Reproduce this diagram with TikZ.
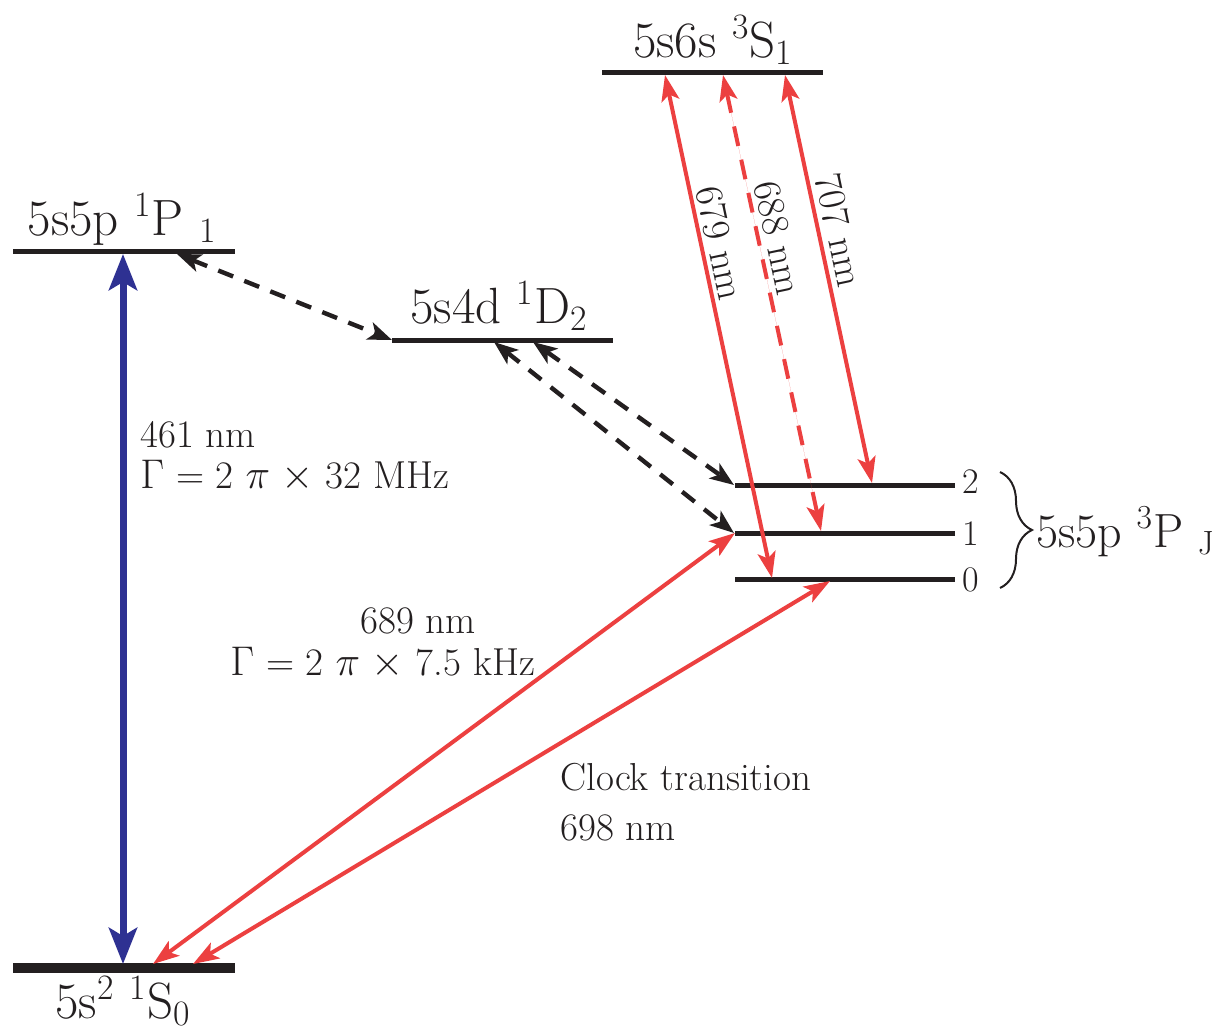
\documentclass[tikz,border=0pt]{standalone}
\usepackage{fontspec}
\usetikzlibrary{arrows.meta,decorations.pathreplacing}
\definecolor{ink}{HTML}{231F20}
\definecolor{deepblue}{HTML}{2E3192}
\definecolor{laserred}{HTML}{EC4040}
\tikzset{lvl/.style={draw=ink, line width=2.5pt}, gnd/.style={draw=ink, line width=5pt}, bluearr/.style={{Stealth[length=18pt,width=14pt,inset=4pt]}-{Stealth[length=18pt,width=14pt,inset=4pt]}, draw=deepblue, line width=3.5pt}, redarr/.style={{Stealth[length=13pt,width=9pt,inset=3pt]}-{Stealth[length=13pt,width=9pt,inset=3pt]}, draw=laserred, fill=laserred, line width=2pt}, blkdash/.style={{Stealth[length=12pt,width=9pt,inset=3pt]}-{Stealth[length=12pt,width=9pt,inset=3pt]}, draw=ink, line width=2.2pt, dash pattern=on 8pt off 6pt}, reddash/.style={redarr, dash pattern=on 10pt off 7pt}, biglab/.style={font=\fontsize{25.5}{28}\selectfont, text=ink, inner sep=0pt}, lab/.style={font=\fontsize{19.5}{22}\selectfont, text=ink, inner sep=0pt}, jlab/.style={font=\fontsize{18}{20}\selectfont, text=ink, inner sep=0pt, anchor=base west}}

\begin{document}
\begin{tikzpicture}[x=0.5pt,y=-0.5pt]
\useasboundingbox (0,0) rectangle (1224,1033);
\coordinate (sL) at (602,72.5); \coordinate (sR) at (823,72.5);
\coordinate (pL) at (13,251.5); \coordinate (pR) at (235,251.5);
\coordinate (dL) at (392,340); \coordinate (dR) at (613,340);
\coordinate (t2L) at (735,485); \coordinate (t2R) at (955,485);
\coordinate (t1L) at (735,533); \coordinate (t1R) at (955,533);
\coordinate (t0L) at (735,579.5); \coordinate (t0R) at (955,579.5);
\coordinate (gL) at (13,968); \coordinate (gR) at (235,968);
\draw[lvl] (sL) -- (sR); \draw[lvl] (pL) -- (pR); \draw[lvl] (dL) -- (dR);
\draw[lvl] (t2L) -- (t2R); \draw[lvl] (t1L) -- (t1R); \draw[lvl] (t0L) -- (t0R);
\draw[gnd] (gL) -- (gR);
\node[biglab, anchor=base] (labS) at (713,57) {5s6s \textsuperscript{3}S\textsubscript{1}};
\node[biglab, anchor=base] (labP) at (122,235) {5s5p \textsuperscript{1}P \textsubscript{1}};
\node[biglab, anchor=base] (labD) at (499,323) {5s4d \textsuperscript{1}D\textsubscript{2}};
\node[biglab, anchor=base] (labG) at (123,1018) {5s\textsuperscript{2} \textsuperscript{1}S\textsubscript{0}};
\node[biglab, font=\fontsize{24}{28}\selectfont, anchor=base west] (labT) at (1036,547) {5s5p \textsuperscript{3}P \textsubscript{J}};
\node[jlab] (j2) at (962,493) {2}; \node[jlab] (j1) at (962,545) {1}; \node[jlab] (j0) at (962,591) {0};
\coordinate (brT) at (1000,472); \coordinate (brB) at (1000,588);
\draw[ink, line width=1pt, decorate, decoration={brace, amplitude=16pt}] (brT) -- (brB);
\coordinate (bU) at (123,254); \coordinate (bD) at (123,964);
\draw[bluearr] (bU) -- (bD);
\coordinate (kP) at (177,254); \coordinate (kD) at (392,340);
\coordinate (kD1) at (494,342); \coordinate (kT1) at (734,533);
\coordinate (kD2) at (533,342); \coordinate (kT2) at (734,485);
\draw[blkdash] (kP) -- (kD); \draw[blkdash] (kD1) -- (kT1); \draw[blkdash] (kD2) -- (kT2);
\coordinate (rS0) at (665,75); \coordinate (rT0) at (772,578);
\coordinate (rS1) at (723,75); \coordinate (rT1) at (821,531);
\coordinate (rS2) at (785,75); \coordinate (rT2) at (872,483);
\draw[redarr] (rS0) -- (rT0); \draw[reddash] (rS1) -- (rT1); \draw[redarr] (rS2) -- (rT2);
\coordinate (rP1) at (735,533); \coordinate (rG1) at (153,964);
\coordinate (rP0) at (830,581); \coordinate (rG0) at (193,964);
\draw[redarr] (rP1) -- (rG1); \draw[redarr] (rP0) -- (rG0);
\node[lab, rotate=-78] (n679) at (720,243) {679 nm};
\node[lab, rotate=-78] (n688) at (778,238) {688 nm};
\node[lab, rotate=-78] (n707) at (839,230) {707 nm};
\node[lab, anchor=base west] (n461) at (140,447) {461 nm};
\node[lab, anchor=base west] (g461) at (140,488) {$\Gamma$ = 2 $\pi$ $\times$ 32 MHz};
\node[lab, anchor=base west] (n689) at (360,633) {689 nm};
\node[lab, anchor=base west] (g689) at (230,675) {$\Gamma$ = 2 $\pi$ $\times$ 7.5 kHz};
\node[lab, anchor=base west] (nclk) at (560,790) {Clock transition};
\node[lab, anchor=base west] (n698) at (560,840) {698 nm};
\end{tikzpicture}
\end{document}
